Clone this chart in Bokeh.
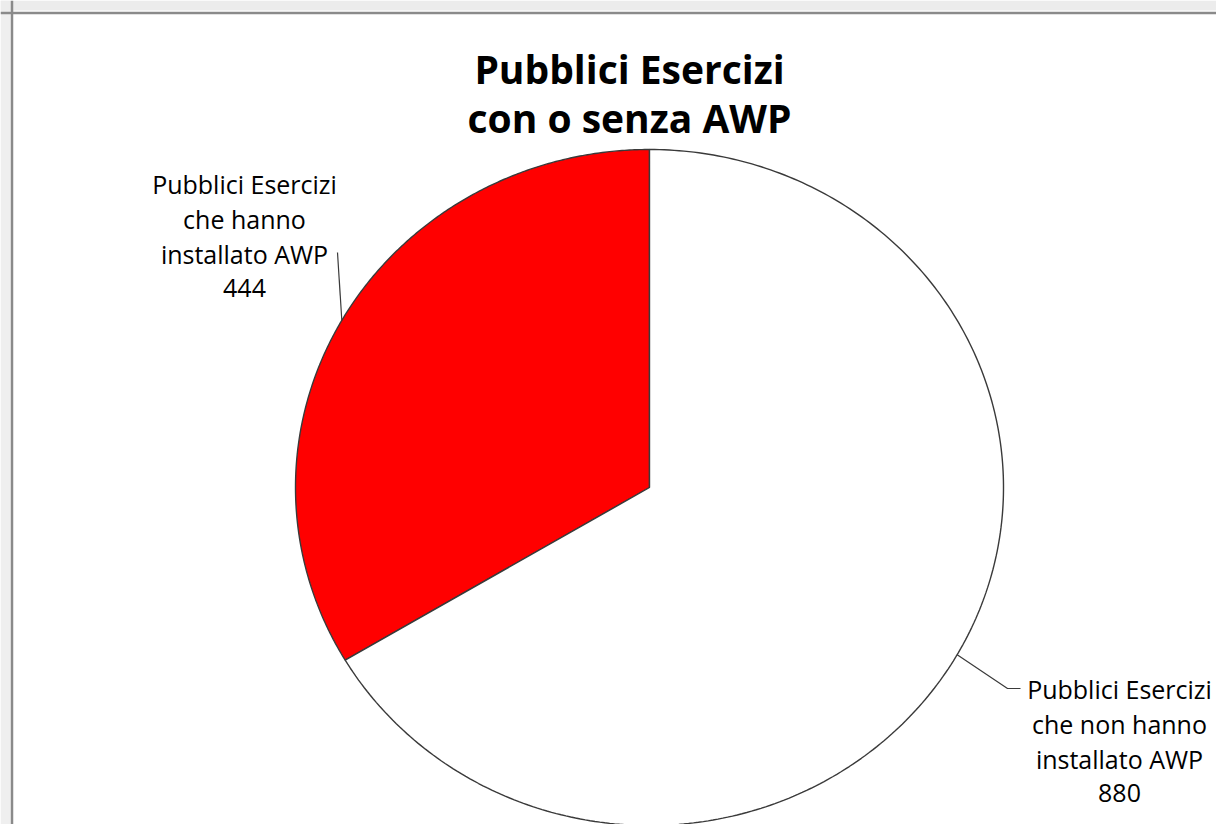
import numpy as np
from bokeh.plotting import figure
from bokeh.models import Range1d, ColumnDataSource, BoxAnnotation, Span
from bokeh.core.properties import value
from bokeh.embed import file_html
from bokeh.resources import INLINE

# ---- data ----
categories = ["Pubblici Esercizi che hanno installato AWP",
              "Pubblici Esercizi che non hanno installato AWP"]
values = [444, 880]
colors = ["#FF0000", "#FFFFFF"]
label_lines = [["Pubblici Esercizi", "che hanno", "installato AWP", "444"],
               ["Pubblici Esercizi", "che non hanno", "installato AWP", "880"]]
title_lines = ["Pubblici Esercizi", "con o senza AWP"]

# ---- layout helpers (figure pixel -> data) ----
CX, CY, RX, RY = 649.0, 487.0, 354.0, 338.0
W, H = 1216, 824


def px(xp, yp):
    return (xp - CX) / RX, (CY - yp) / RY


x0, y1 = px(0, 0)
x1, y0 = px(W, H)

p = figure(width=W, height=H, output_backend="svg", toolbar_location=None,
           x_axis_type=None, y_axis_type=None,
           x_range=Range1d(x0, x1), y_range=Range1d(y0, y1),
           min_border_left=0, min_border_top=0, min_border_right=0, min_border_bottom=0,
           border_fill_color="white", background_fill_color="white",
           outline_line_color=None)
p.grid.visible = False

# ---- surrounding slide frame ----
lx, ty = px(10, 10)
p.add_layout(BoxAnnotation(right=lx, fill_color="#efefef", fill_alpha=1.0, line_color=None))
p.add_layout(BoxAnnotation(bottom=ty, fill_color="#ececec", fill_alpha=1.0, line_color=None))
bx_, by_ = px(11.5, 12.5)
p.add_layout(Span(location=bx_, dimension="height", line_color="#8a8a8a", line_width=2.5))
p.add_layout(Span(location=by_, dimension="width", line_color="#8a8a8a", line_width=2.5))

# ---- pie slices: start at 12 o'clock, counter-clockwise ----
total = sum(values)
angles = np.cumsum([0] + [v / total * 2 * np.pi for v in values])
xs, ys, mids = [], [], []
for i in range(len(values)):
    a0 = np.pi / 2 + angles[i]
    a1 = np.pi / 2 + angles[i + 1]
    t = np.linspace(a0, a1, 300)
    xs.append(np.concatenate([[0], np.cos(t), [0]]))
    ys.append(np.concatenate([[0], np.sin(t), [0]]))
    mids.append((a0 + a1) / 2)

src = ColumnDataSource(dict(xs=xs, ys=ys, color=colors, name=categories))
p.patches("xs", "ys", source=src, fill_color="color", line_color="#3a3a3a", line_width=1.4)

# ---- leader lines ----
lx0, ly0 = np.cos(mids[0]), np.sin(mids[0])
ax, ay = px(337, 252)
p.line([lx0, ax], [ly0, ay], line_color="#3a3a3a", line_width=1.2)

rx0, ry0 = np.cos(mids[1]), np.sin(mids[1])
bx, by = px(1007, 688)
cx, cy = px(1020, 688)
p.line([rx0, bx, cx], [ry0, by, cy], line_color="#3a3a3a", line_width=1.2)

# ---- data labels ----
font = value("Open Sans")
left_cx = 244
right_cx = 1119
left_base = [183, 218, 253, 287]
right_base = [688, 723, 758, 792]
for lines, xc, bases in [(label_lines[0], left_cx, left_base), (label_lines[1], right_cx, right_base)]:
    pts = [px(xc, b) for b in bases]
    p.text(x=[q[0] for q in pts], y=[q[1] for q in pts], text=lines,
           text_font=font, text_font_size="25px", text_color="#000000",
           text_align="center", text_baseline="alphabetic")

# ---- title ----
tpts = [px(629, 68), px(629, 117)]
p.text(x=[q[0] for q in tpts], y=[q[1] for q in tpts], text=title_lines,
       text_font=font, text_font_size="39px", text_font_style="bold", text_color="#000000",
       text_align="center", text_baseline="alphabetic")

open("out.html", "w").write(file_html(p, INLINE))
